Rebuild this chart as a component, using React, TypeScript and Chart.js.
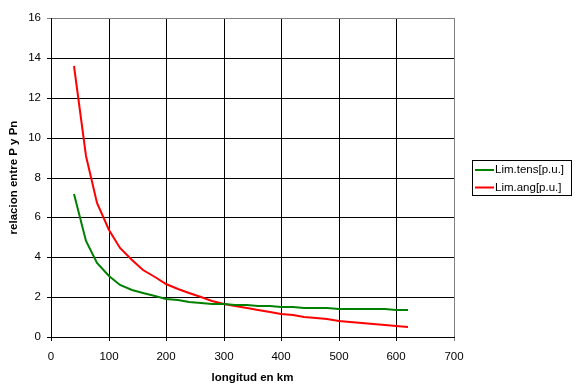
import React, { useEffect, useRef } from "react";
import { Chart, registerables } from "chart.js";

Chart.register(...registerables);

const longitudKm = [40, 60, 80, 100, 120, 140, 160, 180, 200, 220, 240, 260, 280, 300, 320, 340, 360, 380, 400, 420, 440, 460, 480, 500, 520, 540, 560, 580, 600, 620];
const limTens = [7.15, 4.8, 3.7, 3.05, 2.62, 2.38, 2.2, 2.05, 1.93, 1.85, 1.78, 1.72, 1.68, 1.64, 1.61, 1.58, 1.56, 1.53, 1.5, 1.48, 1.47, 1.45, 1.44, 1.42, 1.41, 1.4, 1.39, 1.38, 1.375, 1.37];
const limAng = [13.6, 9.1, 6.7, 5.35, 4.45, 3.85, 3.38, 3.0, 2.64, 2.4, 2.2, 2.0, 1.82, 1.66, 1.55, 1.45, 1.35, 1.25, 1.16, 1.08, 1.0, 0.94, 0.88, 0.82, 0.76, 0.71, 0.66, 0.61, 0.56, 0.52];
const seriesLabels = ["Lim.tens[p.u.]", "Lim.ang[p.u.]"];
const seriesColors = ["#008000", "#FF0000"];
const xTitle = "longitud en km";
const yTitle = "relacion entre P y Pn";

const FONT = "Liberation Sans, Arial, sans-serif";
const FS = 11.5;

const boxLegend = {
  id: "boxLegend",
  afterDraw(chart: any) {
    const ctx = chart.ctx;
    ctx.save();
    const left = 472.5, top = 160.5, w = 99, h = 35;
    ctx.strokeStyle = "#000";
    ctx.lineWidth = 1;
    ctx.strokeRect(left, top, w, h);
    ctx.font = FS + "px " + FONT;
    ctx.textBaseline = "middle";
    ctx.textAlign = "left";
    chart.data.datasets.forEach((ds: any, i: number) => {
      const y = 170 + i * 17.5;
      ctx.strokeStyle = ds.borderColor;
      ctx.lineWidth = 2;
      ctx.beginPath();
      ctx.moveTo(475, y);
      ctx.lineTo(494, y);
      ctx.stroke();
      ctx.fillStyle = "#000";
      ctx.fillText(ds.label, 495, y);
    });
    ctx.restore();
  },
};

export default function App() {
  const ref = useRef<HTMLCanvasElement>(null);
  useEffect(() => {
    if (!ref.current) return;
    const chart = new Chart(ref.current, {
      type: "line",
      data: {
        datasets: [limTens, limAng].map((vals, i) => ({
          label: seriesLabels[i],
          data: longitudKm.map((x, j) => ({ x, y: vals[j] })),
          borderColor: seriesColors[i],
          backgroundColor: seriesColors[i],
          borderWidth: 2,
          pointRadius: 0,
          tension: 0,
          fill: false,
        })),
      },
      options: {
        responsive: false,
        animation: false,
        events: [],
        layout: { padding: { left: 0, top: 18, right: 123, bottom: 0 } },
        plugins: { legend: { display: false }, tooltip: { enabled: false } },
        scales: {
          x: {
            type: "linear",
            min: 0,
            max: 700,
            alignToPixels: true,
            border: { display: true, color: "#000", width: 1 },
            grid: {
              color: (c: any) => (c.tick && c.tick.value === 700 ? "#808080" : "#000"),
              lineWidth: 1,
              tickLength: 4,
              drawTicks: true,
            },
            ticks: { stepSize: 100, color: "#000", font: { family: FONT, size: FS }, padding: 9, maxRotation: 0 },
            title: { display: true, text: xTitle, color: "#000", font: { family: FONT, size: FS, weight: "bold" }, padding: { top: 0, bottom: 6 } },
            afterFit: (s: any) => { s.height = 54; },
          },
          y: {
            type: "linear",
            min: 0,
            max: 16,
            alignToPixels: true,
            border: { display: true, color: "#000", width: 1 },
            grid: {
              color: (c: any) => (c.tick && c.tick.value === 16 ? "#808080" : "#000"),
              lineWidth: 1,
              tickLength: 4,
              drawTicks: true,
            },
            ticks: { stepSize: 2, color: "#000", font: { family: FONT, size: FS }, padding: 6 },
            title: { display: true, text: yTitle, color: "#000", font: { family: FONT, size: FS, weight: "bold" }, padding: { top: 7, bottom: 0 } },
            afterFit: (s: any) => { s.width = 51; },
          },
        },
      },
      plugins: [boxLegend],
    } as any);
    return () => chart.destroy();
  }, []);
  return (
    <div style={{ position: "fixed", left: 0, top: 0, width: 577, height: 391, background: "#fff" }}>
      <canvas ref={ref} width={577} height={391} style={{ display: "block" }} />
    </div>
  );
}
